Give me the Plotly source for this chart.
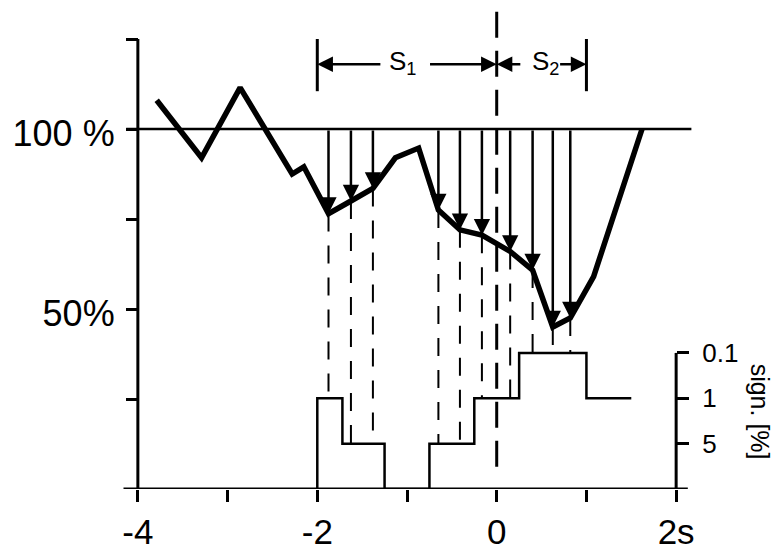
import plotly.graph_objects as go
import numpy as np

# ---------------- data ----------------
curve_t = [-3.79, -3.29, -2.86, -2.28, -2.15, -1.875, -1.625, -1.38, -1.13, -0.87,
           -0.65, -0.41, -0.165, 0.15, 0.40, 0.625, 0.82, 1.08, 1.62]
curve_pct = [108, 92, 111.5, 87.5, 89.5, 76.5, 80, 83.5, 92, 94.7,
             77.5, 72, 70.5, 66, 60.8, 45, 47.5, 59, 100]
arrow_t = [-1.875, -1.625, -1.38, -0.65, -0.41, -0.165, 0.15, 0.40, 0.625, 0.82]

# significance steps: 0 = n.s., 1 = 5 %, 2 = 1 %, 3 = 0.1 %
sig_edges = [-2.0, -1.72, -1.25, -0.75, -0.25, 0.25, 1.0, 1.5]
sig_levels = [2, 1, 0, 1, 2, 3, 2]
sig_tick_vals = [1, 2, 3]
sig_tick_text = ["5", "1", "0.1"]

x_tick_vals = [-4, -2, 0, 2]
x_tick_text = ["-4", "-2", "0", "2s"]
x_minor_vals = [-3, -1, 1]
y_tick_vals = [50, 100]
y_tick_text = ["50%", "100 %"]
y_minor_vals = [25, 75, 125]

s1_span = [-2, 0]
s2_span = [0, 1]
ref_level = 100

# ---------------- layout constants ----------------
FONT = "Liberation Sans, Arial, sans-serif"
XMIN, XMAX = -4.5, 2.5
YMIN, YMAX = 0, 135
LEVEL_STEP = 12.6
AXW = 3

fig = go.Figure()

# significance step function
sx = [sig_edges[0]] + list(sig_edges)
sy = [0] + list(sig_levels) + [sig_levels[-1]]
fig.add_trace(go.Scatter(x=sx, y=sy, mode="lines", line_shape="hv",
                         line=dict(color="black", width=2.5), yaxis="y2",
                         hoverinfo="skip"))

# dashed projection lines
tips = np.interp(arrow_t, curve_t, curve_pct)
def level_at(t):
    for i in range(len(sig_levels)):
        if sig_edges[i] <= t < sig_edges[i + 1]:
            return sig_levels[i]
    return 0
dx, dy = [], []
for t, tp in zip(arrow_t, tips):
    dx += [t, t, None]
    dy += [tp, level_at(t) * LEVEL_STEP, None]
fig.add_trace(go.Scatter(x=dx, y=dy, mode="lines",
                         line=dict(color="black", width=2, dash="18px,14px"),
                         hoverinfo="skip"))

# main curve
fig.add_trace(go.Scatter(x=curve_t, y=curve_pct, mode="lines",
                         line=dict(color="black", width=5.5), hoverinfo="skip"))

shapes = [
    # axes lines
    dict(type="line", xref="x", yref="y", x0=-4.16, x1=2.13, y0=0, y1=0,
         line=dict(color="black", width=AXW)),
    dict(type="line", xref="x", yref="y", x0=-4, x1=-4, y0=0, y1=125,
         line=dict(color="black", width=AXW)),
    dict(type="line", xref="x", yref="y", x0=2, x1=2, y0=0, y1=3 * LEVEL_STEP,
         line=dict(color="black", width=AXW)),
    # 100 % reference line
    dict(type="line", xref="x", yref="y", x0=-4.13, x1=2.17, y0=ref_level, y1=ref_level,
         line=dict(color="black", width=2.5)),
    # x = 0 long dashed line
    dict(type="line", xref="x", yref="y", x0=0, x1=0, y0=132.6, y1=4.8,
         line=dict(color="black", width=3, dash="26px,13px")),
    # bracket bars
    dict(type="line", xref="x", yref="y", x0=s1_span[0], x1=s1_span[0], y0=110.5, y1=125,
         line=dict(color="black", width=3)),
    dict(type="line", xref="x", yref="y", x0=s2_span[1], x1=s2_span[1], y0=110.5, y1=125,
         line=dict(color="black", width=3)),
]

annotations = []
# vertical arrows from 100 % to the curve
for t, tp in zip(arrow_t, tips):
    annotations.append(dict(x=t, y=tp, ax=t, ay=ref_level, xref="x", yref="y",
                            axref="x", ayref="y", text="", showarrow=True,
                            arrowhead=2, arrowsize=1.3, arrowwidth=2.5,
                            arrowcolor="black", font=dict(size=1)))
# S1 / S2 bracket arrows
YB = 118
for head, tail in [(s1_span[0], -1.28), (s1_span[1], -0.76),
                   (s2_span[0], 0.28), (s2_span[1], 0.69)]:
    annotations.append(dict(x=head, y=YB, ax=tail, ay=YB, xref="x", yref="y",
                            axref="x", ayref="y", text="", showarrow=True,
                            arrowhead=2, arrowsize=1.25, arrowwidth=2.5,
                            arrowcolor="black", font=dict(size=1)))
annotations.append(dict(x=-1.05, y=118.6, xref="x", yref="y", text="S<sub>1</sub>",
                        showarrow=False, font=dict(size=26, family=FONT, color="black")))
annotations.append(dict(x=0.54, y=118.6, xref="x", yref="y", text="S<sub>2</sub>",
                        showarrow=False, font=dict(size=26, family=FONT, color="black")))
annotations.append(dict(x=1.062, y=21.5, xref="paper", yref="y", text="sign. [%]",
                        textangle=90, showarrow=False, xanchor="center", yanchor="middle",
                        font=dict(size=25, family=FONT, color="black")))

tick_common = dict(ticks="outside", ticklen=12, tickwidth=AXW, tickcolor="black",
                   showgrid=False, zeroline=False, showline=False, automargin=False)
minor_common = dict(ticks="outside", ticklen=12, tickwidth=AXW, tickcolor="black",
                    showgrid=False)

fig.update_layout(
    width=772, height=544, template="none",
    margin=dict(l=93, r=51, t=3, b=55, pad=0),
    paper_bgcolor="white", plot_bgcolor="white", showlegend=False,
    font=dict(family=FONT, color="black"),
    shapes=shapes, annotations=annotations,
    xaxis=dict(range=[XMIN, XMAX], tickvals=x_tick_vals, ticktext=x_tick_text,
               minor=dict(tickvals=x_minor_vals, **minor_common),
               tickfont=dict(size=35, family=FONT, color="black"),
               ticklabelstandoff=0, **tick_common),
    yaxis=dict(range=[YMIN, YMAX], anchor="free",
               position=(-4 - XMIN) / (XMAX - XMIN),
               tickvals=y_tick_vals, ticktext=y_tick_text,
               minor=dict(tickvals=y_minor_vals, **minor_common),
               tickfont=dict(size=36, family=FONT, color="black"),
               ticklabelstandoff=4, ticklabelshift=4, **tick_common),
    yaxis2=dict(range=[0, YMAX / LEVEL_STEP], overlaying="y", anchor="free",
                side="right", position=(2 - XMIN) / (XMAX - XMIN),
                tickvals=sig_tick_vals, ticktext=sig_tick_text,
                tickfont=dict(size=26, family=FONT, color="black"),
                ticklabelstandoff=8, **tick_common),
)

fig.write_html("out.html")
